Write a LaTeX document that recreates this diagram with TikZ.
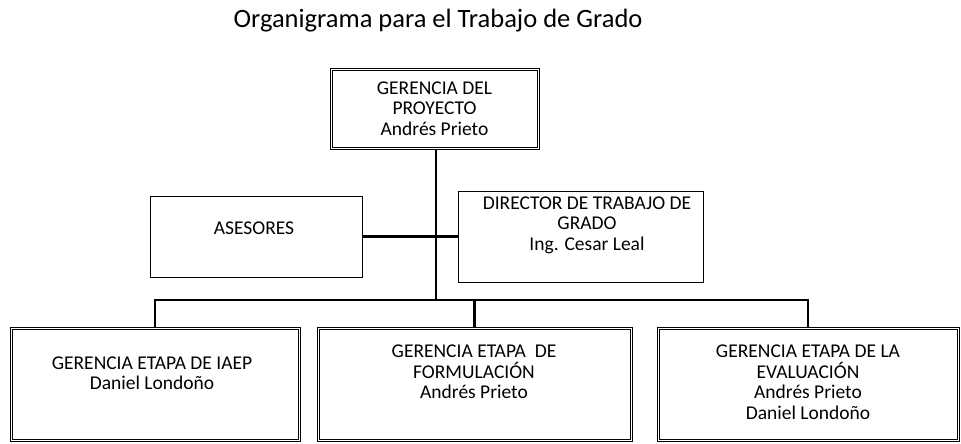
\documentclass[tikz,border=0pt]{standalone}
\usepackage{fontspec}
\setmainfont{Carlito}
\tikzset{caja/.style={draw, line width=0.7pt, inner sep=0pt},
  txt/.style={font=\fontsize{19.5}{20.5}\selectfont, align=center, inner sep=0pt},
  linea/.style={line width=2.2pt}}
\begin{document}
\begin{tikzpicture}[x=1pt,y=-1pt]
\useasboundingbox (0,0) rectangle (961,444);
\node[font=\fontsize{26.5}{30}\selectfont, inner sep=0pt] (titulo) at (438,21) {Organigrama para el Trabajo de Grado};
% cajas
\node[caja, minimum width=209pt, minimum height=81pt] (gerencia) at (434.5,108.5) {};
\node[caja, minimum width=212pt, minimum height=81pt] (asesores) at (256,236.5) {};
\node[caja, minimum width=245pt, minimum height=91pt] (director) at (580.5,236.5) {};
\node[caja, minimum width=290pt, minimum height=114pt] (iaep) at (155,384) {};
\node[caja, minimum width=315pt, minimum height=114pt] (formula) at (474.5,384) {};
\node[caja, minimum width=302pt, minimum height=114pt] (evalua) at (808,384) {};
% linea interior (cajas con borde doble)
\foreach \c in {gerencia,iaep,formula,evalua}
  \draw[line width=0.5pt] ([xshift=2.2pt,yshift=-2.2pt]\c.north west) rectangle ([xshift=-2.2pt,yshift=2.2pt]\c.south east);
% textos
\node[txt] (gerenciatxt) at (434.5,108.5) {GERENCIA DEL\\PROYECTO\\Andrés Prieto};
\node[txt] (asesorestxt) at (254,228) {ASESORES};
\node[txt] (directortxt) at (587,225) {DIRECTOR DE TRABAJO DE\\GRADO\\Ing. Cesar Leal};
\node[txt] (iaeptxt) at (152,373) {GERENCIA ETAPA DE IAEP\\Daniel Londoño};
\node[txt] (formulatxt) at (474,372) {GERENCIA ETAPA~~DE\\FORMULACIÓN\\Andrés Prieto};
\node[txt] (evaluatxt) at (808,382) {GERENCIA ETAPA DE LA\\EVALUACIÓN\\Andrés Prieto\\Daniel Londoño};
% conectores
\coordinate (bus) at (436,300);
\draw[linea] (gerencia.south -| bus) -- (bus);
\draw[linea] (asesores.east) -- (director.west);
\draw[linea] (iaep.north) |- (bus) -| (evalua.north);
\draw[linea] (formula.north) -- (formula.north |- bus);
\end{tikzpicture}
\end{document}
